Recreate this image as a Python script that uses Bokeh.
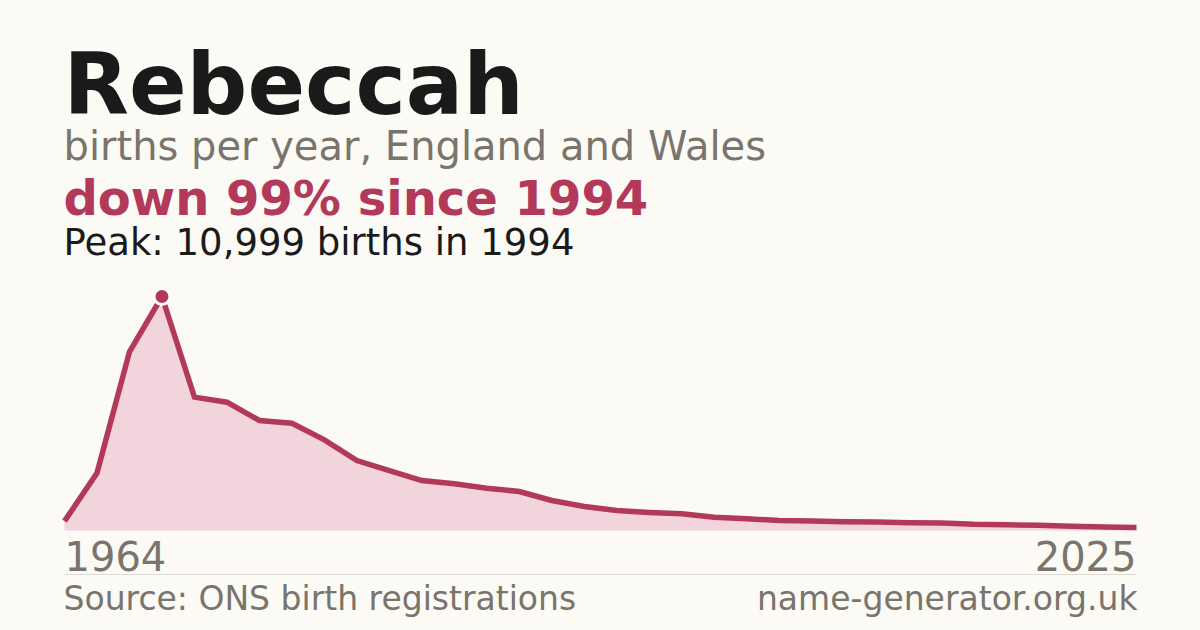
from bokeh.plotting import figure
from bokeh.models import Label, Range1d
from bokeh.embed import file_html
from bokeh.resources import INLINE

# ---- data ----
births = [440, 2700, 8400, 10999, 6270, 6030, 5170, 5040, 4260, 3290,
          2820, 2350, 2195, 1990, 1830, 1410, 1130, 940, 846, 785,
          625, 550, 470, 450, 415, 400, 367, 352, 290, 272,
          244, 197, 165, 140]
positions = list(range(len(births)))
tick_labels = ["1964", "2025"]
title_text = "Rebeccah"
subtitle_text = "births per year, England and Wales"
change_text = "down 99% since 1994"
peak_text = "Peak: 10,999 births in 1994"
source_text = "Source: ONS birth registrations"
site_text = "name-generator.org.uk"

# ---- layout ----
W, H = 1200, 630
BG = "#fbfaf5"
CRIMSON = "#b3395a"
AREA = "#f2d5dc"
GREY = "#79746c"
DARK = "#1a1a1a"
FONT = "DejaVu Sans"
SHIFT = 0.36  # baseline compensation (fraction of font size)

left_px, right_px = 64, 1136
base_px, peak_px = 530, 296   # from top
n = len(births) - 1
xu = n / (right_px - left_px)
x0 = -left_px * xu
x1 = x0 + W * xu
peak = max(births)
yu = peak / (base_px - peak_px)
y1 = base_px * yu
y0 = -(H - base_px) * yu

p = figure(width=W, height=H, output_backend="svg", toolbar_location=None,
           x_range=Range1d(x0, x1), y_range=Range1d(y0, y1),
           min_border=0, background_fill_color=BG, border_fill_color=BG,
           outline_line_color=None)
p.axis.visible = False
p.grid.visible = False

p.varea(x=positions, y1=[0] * len(births), y2=births, fill_color=AREA, fill_alpha=1.0)
p.line(x=positions, y=births, line_color=CRIMSON, line_width=5.5, line_join="miter")
ip = births.index(peak)
p.scatter(x=[positions[ip]], y=[peak], size=16, fill_color=CRIMSON,
          line_color="white", line_width=3)

def sy(ref_y, size):
    return H - ref_y + SHIFT * size

def lab(text, x, y, size, color, bold=False, align="left", data_x=False):
    p.add_layout(Label(x=x, y=sy(y, size), x_units="data" if data_x else "screen",
                       y_units="screen",
                       text=text, text_font=FONT, text_font_size=f"{size}px",
                       text_color=color, text_font_style="bold" if bold else "normal",
                       text_align=align, text_baseline="alphabetic"))

lab(title_text, 63, 115, 85, DARK, bold=True)
lab(subtitle_text, 63, 160, 40, GREY)
lab(change_text, 63, 215, 48, CRIMSON, bold=True)
lab(peak_text, 63, 255, 37, DARK)

# tick labels at first/last positions via data scale
lab(tick_labels[0], positions[0], 570, 40, GREY, data_x=True)
lab(tick_labels[1], positions[-1], 570, 40, GREY, align="right", data_x=True)

# separator
p.line(x=[positions[0], positions[-1]], y=[(base_px - 574) * yu] * 2,
       line_color="#dddad3", line_width=1)

lab(source_text, 63, 610, 33, GREY)
lab(site_text, 1137, 610, 33, GREY, align="right")

open("out.html", "w").write(file_html(p, INLINE))
